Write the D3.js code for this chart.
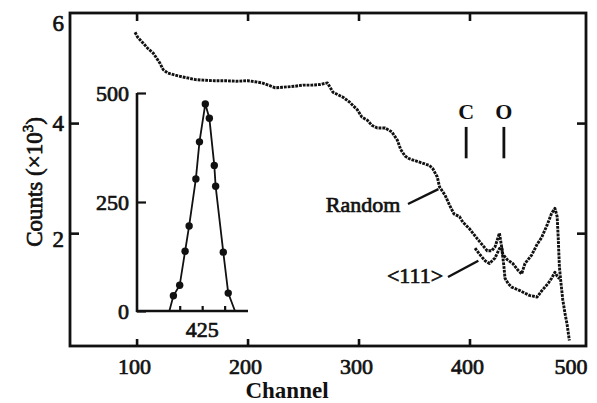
<!DOCTYPE html>
<html><head><meta charset="utf-8">
<script src="https://cdn.jsdelivr.net/npm/d3@7"></script>
<style>
html,body{margin:0;padding:0;background:#fff;}
text{font-family:"Liberation Serif","Times New Roman",serif;fill:#111;}
</style></head>
<body><svg id="c" width="597" height="403"></svg>
<script>
// ---- data ----
const randomChannel = [98.6,101,106,110,115,118,121,124,128,135,141,146,153,160,170,180,190,200,207,213,220,225,231,243,250,258,265,272,277,286,292,299,303,308,312,317,324,330,335,338,342,346,355,364,367,371,373,378,382,386,391,394,400,407,411,416,420,423,427,430,434,439,444,447,450,456,461,465,470,474,477,479,480,481,482,484,486,488,490];
const randomCounts  = [5.65,5.56,5.45,5.36,5.27,5.18,5.09,4.97,4.91,4.87,4.84,4.82,4.79,4.78,4.77,4.77,4.76,4.77,4.75,4.73,4.68,4.64,4.65,4.67,4.69,4.69,4.70,4.73,4.56,4.47,4.38,4.24,4.11,4.05,3.96,3.91,3.91,3.84,3.69,3.52,3.40,3.35,3.29,3.23,3.17,3.02,2.84,2.69,2.51,2.35,2.30,2.20,2.08,1.90,1.80,1.68,1.68,1.75,2.00,1.62,1.52,1.45,1.32,1.26,1.45,1.60,1.80,1.92,2.15,2.36,2.45,2.30,1.90,1.40,1.18,0.80,0.55,0.34,0.05];
const alignedChannel = [405,409,414,418,423,427,429,431,432,435,438,445,454,461,465,471,474,477,479,481];
const alignedCounts  = [1.73,1.62,1.50,1.45,1.55,1.72,1.74,1.40,1.18,1.08,1.02,0.96,0.87,0.84,0.95,1.09,1.18,1.29,1.22,1.17];
const xTicks = [100,200,300,400,500];
const yTicks = [2,4,6];
const markerLabels = ["C","O"];
const markerChannels = [397,431];
// inset
const insetChannel = [418.6,420.0,421.2,422.1,423.6,424.4,425.7,426.6,427.7,428.0,429.7,430.8];
const insetCounts  = [35,59,137,195,303,388,475,442,334,286,135,41];
const insetFitChannel = [417.7,418.6,420.0,421.2,422.1,423.6,424.4,425.7,426.6,427.7,428.0,429.7,430.8,432.3];
const insetFitCounts  = [0,35,59,137,195,303,388,475,442,334,286,135,41,0];
const insetYTicks = [0,250,500];
const insetXTicks = [420,425,430];
const insetXLabels = [425];

const svg = d3.select("#c");
const FS = 22;

// main scales
const x = d3.scaleLinear().domain([40,505]).range([70,586]);
const y = d3.scaleLinear().domain([-0.05,6]).range([346,13]);

function thick(sel){ return sel.attr("stroke","#111").attr("stroke-width",0.7); }

// curves
const line = d3.line().x(d=>x(d[0])).y(d=>y(d[1]));
[[randomChannel,randomCounts],[alignedChannel,alignedCounts]].forEach(([cx,cy])=>{
  svg.append("path").datum(d3.zip(cx,cy))
    .attr("d",line).attr("fill","none").attr("stroke","#111").attr("stroke-width",2.9)
    .attr("stroke-dasharray","2.8,1").attr("stroke-linejoin","round");
});

// frame
svg.append("rect").attr("x",70).attr("y",13).attr("width",516).attr("height",333)
  .attr("fill","none").attr("stroke","#111").attr("stroke-width",2.8);

// axes with inward ticks
const axB = d3.axisBottom(x).tickValues([100,200,300,400]).tickSize(-7).tickFormat("");
const axT = d3.axisTop(x).tickValues([100,200,300,400]).tickSize(-8).tickFormat("");
const axL = d3.axisLeft(y).tickValues([2,4]).tickSize(-9).tickFormat("");
const axR = d3.axisRight(y).tickValues([2,4]).tickSize(-9).tickFormat("");
[[axB,"translate(0,346)"],[axT,"translate(0,13)"],[axL,"translate(70,0)"],[axR,"translate(586,0)"]].forEach(([a,t])=>{
  const g = svg.append("g").attr("transform",t).call(a);
  g.select(".domain").remove();
  g.selectAll("line").attr("stroke","#111").attr("stroke-width",2.6);
});

// tick labels
svg.append("g").selectAll("text").data(xTicks).join("text")
  .attr("x",d=> d===500 ? x(d)+7 : x(d)-2).attr("y",374)
  .attr("text-anchor",d=> d===500 ? "end":"middle")
  .attr("font-size",FS).text(d=>d).call(thick);
svg.append("g").selectAll("text").data(yTicks).join("text")
  .attr("x",64).attr("y",d=>y(d)+ (d===6?10:(d===2?6:0))).attr("dy","0.35em")
  .attr("text-anchor","end").attr("font-size",FS+1).text(d=>d).call(thick);

// axis titles
svg.append("text").attr("x",287).attr("y",398).attr("text-anchor","middle")
  .attr("font-size",23).attr("font-weight","bold").text("Channel");
const yt = svg.append("text").attr("transform","translate(42,182) rotate(-90)")
  .attr("text-anchor","middle").attr("font-size",23).call(thick);
yt.append("tspan").text("Counts (×10");
yt.append("tspan").attr("font-size",15).attr("dy",-9).text("3");
yt.append("tspan").attr("dy",9).text(")");

// C / O markers
markerChannels.forEach((c,i)=>{
  svg.append("line").attr("x1",x(c)).attr("x2",x(c)).attr("y1",y(3.93)).attr("y2",y(3.36))
    .attr("stroke","#111").attr("stroke-width",2.8);
  svg.append("text").attr("x",x(c)).attr("y",y(3.93)-8).attr("text-anchor","middle")
    .attr("font-size",FS).attr("font-weight","bold").text(markerLabels[i]);
});

// curve labels with leader lines
svg.append("text").attr("x",363).attr("y",212).attr("text-anchor","middle")
  .attr("font-size",FS).text("Random").call(thick);
svg.append("line").attr("x1",408).attr("y1",204).attr("x2",x(372)).attr("y2",y(2.8))
  .attr("stroke","#111").attr("stroke-width",2.4);
svg.append("text").attr("x",415).attr("y",283).attr("text-anchor","middle")
  .attr("font-size",FS).text("<111>").call(thick);
svg.append("line").attr("x1",448).attr("y1",277).attr("x2",x(408)).attr("y2",y(1.5))
  .attr("stroke","#111").attr("stroke-width",2.4);

// ---- inset ----
const ix = d3.scaleLinear().domain([410.5,435.2]).range([137,248]);
const iy = d3.scaleLinear().domain([0,500]).range([311,93]);
svg.append("path").datum(d3.zip(insetFitChannel,insetFitCounts))
  .attr("d",d3.line().x(d=>ix(d[0])).y(d=>iy(d[1])))
  .attr("fill","none").attr("stroke","#111").attr("stroke-width",1.8);
svg.append("g").selectAll("circle").data(d3.zip(insetChannel,insetCounts)).join("circle")
  .attr("cx",d=>ix(d[0])).attr("cy",d=>iy(d[1])).attr("r",3.7).attr("fill","#111");
const iaxL = d3.axisLeft(iy).tickValues(insetYTicks).tickSize(-9).tickFormat("");
const iaxB = d3.axisBottom(ix).tickValues(insetXTicks).tickSize(-5).tickFormat("");
[[iaxL,"translate(137,0)"],[iaxB,"translate(0,311)"]].forEach(([a,t])=>{
  const g = svg.append("g").attr("transform",t).call(a);
  g.select(".domain").remove();
  g.selectAll("line").attr("stroke","#111").attr("stroke-width",2.2);
});
svg.append("line").attr("x1",137).attr("x2",137).attr("y1",iy(500)).attr("y2",iy(0)+1)
  .attr("stroke","#111").attr("stroke-width",2.6);
svg.append("line").attr("x1",136).attr("x2",248).attr("y1",iy(0)).attr("y2",iy(0))
  .attr("stroke","#111").attr("stroke-width",2.6);
svg.append("g").selectAll("text").data(insetYTicks).join("text")
  .attr("x",129).attr("y",d=>iy(d)).attr("dy","0.35em").attr("text-anchor","end")
  .attr("font-size",FS).text(d=>d).call(thick);
svg.append("g").selectAll("text").data(insetXLabels).join("text")
  .attr("x",d=>ix(d)).attr("y",337).attr("text-anchor","middle")
  .attr("font-size",FS).text(d=>d).call(thick);
</script></body></html>
